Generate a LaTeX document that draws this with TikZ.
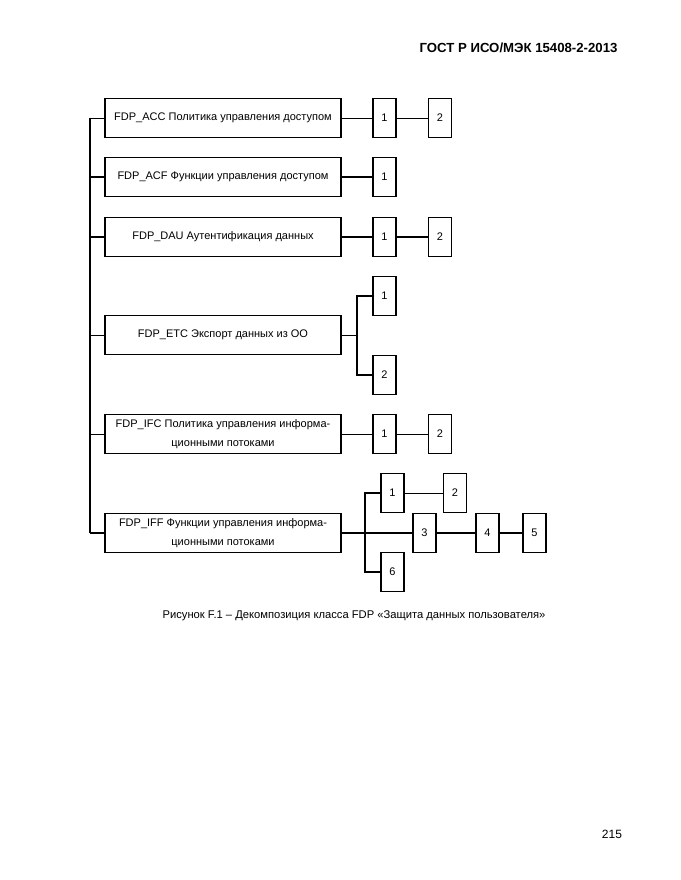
\documentclass[tikz,border=0pt]{standalone}
\usepackage{fontspec}
\setmainfont{Liberation Sans}
\usetikzlibrary{positioning}
\tikzset{
  mainbox/.style={draw, line width=1.6pt, minimum width=236pt, minimum height=39pt,
    inner sep=0pt, align=center, font=\fontsize{11}{19}\selectfont},
  numbox/.style={draw, line width=1.6pt, minimum width=23pt, minimum height=39pt,
    inner sep=0pt, font=\fontsize{11}{12}\selectfont},
  thinline/.style={line width=0.9pt},
  thickline/.style={line width=1.8pt}
}
\begin{document}
\begin{tikzpicture}[x=1pt, y=-1pt]
\useasboundingbox (0,0) rectangle (680,880);

\node[anchor=east, font=\bfseries\fontsize{13.2}{15}\selectfont] (title) at (621,48) {ГОСТ Р ИСО/МЭК 15408-2-2013};

% main boxes
\node[mainbox] (acc) at (223,118) {FDP\_ACC Политика управления доступом};
\node[mainbox] (acf) at (223,177) {FDP\_ACF Функции управления доступом};
\node[mainbox] (dau) at (223,237) {FDP\_DAU Аутентификация данных};
\node[mainbox] (etc) at (223,335) {FDP\_ETC Экспорт данных из ОО};
\node[mainbox] (ifc) at (223,434) {FDP\_IFC Политика управления информа-\\ционными потоками};
\node[mainbox] (iff) at (223,533) {FDP\_IFF Функции управления информа-\\ционными потоками};

% numbered boxes
\node[numbox] (acc1) at (384.5,118) {1};
\node[numbox] (acc2) at (440,118) {2};
\node[numbox] (acf1) at (384.5,177) {1};
\node[numbox] (dau1) at (384.5,237) {1};
\node[numbox] (dau2) at (440,237) {2};
\node[numbox] (etc1) at (384.5,296) {1};
\node[numbox] (etc2) at (384.5,375) {2};
\node[numbox] (ifc1) at (384.5,434) {1};
\node[numbox] (ifc2) at (440,434) {2};
\node[numbox] (iff1) at (392.5,493) {1};
\node[numbox] (iff2) at (455,493) {2};
\node[numbox] (iff3) at (424.5,533) {3};
\node[numbox] (iff4) at (487.5,533) {4};
\node[numbox] (iff5) at (534.5,533) {5};
\node[numbox] (iff6) at (392.5,572) {6};

% trunk
\coordinate (trunktop) at (90,118);
\coordinate (trunkbot) at (90,533);
\draw[line width=1.2pt] (trunktop) -- (trunkbot);
\draw[thinline] (acc.west) -- (acc.west -| trunktop);
\draw[thickline] (acf.west) -- (acf.west -| trunktop);
\draw[thickline] (dau.west) -- (dau.west -| trunktop);
\draw[thinline] (etc.west) -- (etc.west -| trunktop);
\draw[thinline] (ifc.west) -- (ifc.west -| trunktop);
\draw[thickline] (iff.west) -- (iff.west -| trunktop);

% sub chains
\draw[thinline] (acc) -- (acc1) -- (acc2);
\draw[thickline] (acf) -- (acf1);
\draw[thickline] (dau) -- (dau1) -- (dau2);

\coordinate (etcfork) at (357,335);
\draw[thinline] (etc.east) -- (etcfork);
\draw[thickline] (etc1.west) -| (etcfork) |- (etc2.west);

\draw[thinline] (ifc) -- (ifc1) -- (ifc2);

\coordinate (ifffork) at (365,533);
\draw[thickline] (iff.east) -- (iff3.west);
\draw[thickline] (iff1.west) -| (ifffork) |- (iff6.west);
\draw[thinline] (iff1) -- (iff2);
\draw[thickline] (iff3) -- (iff4) -- (iff5);

\node[font=\fontsize{11.2}{13}\selectfont] (caption) at (354,616) {Рисунок F.1 – Декомпозиция класса FDP «Защита данных пользователя»};
\node[font=\fontsize{12}{14}\selectfont] (pagenum) at (612,834) {215};
\end{tikzpicture}
\end{document}
